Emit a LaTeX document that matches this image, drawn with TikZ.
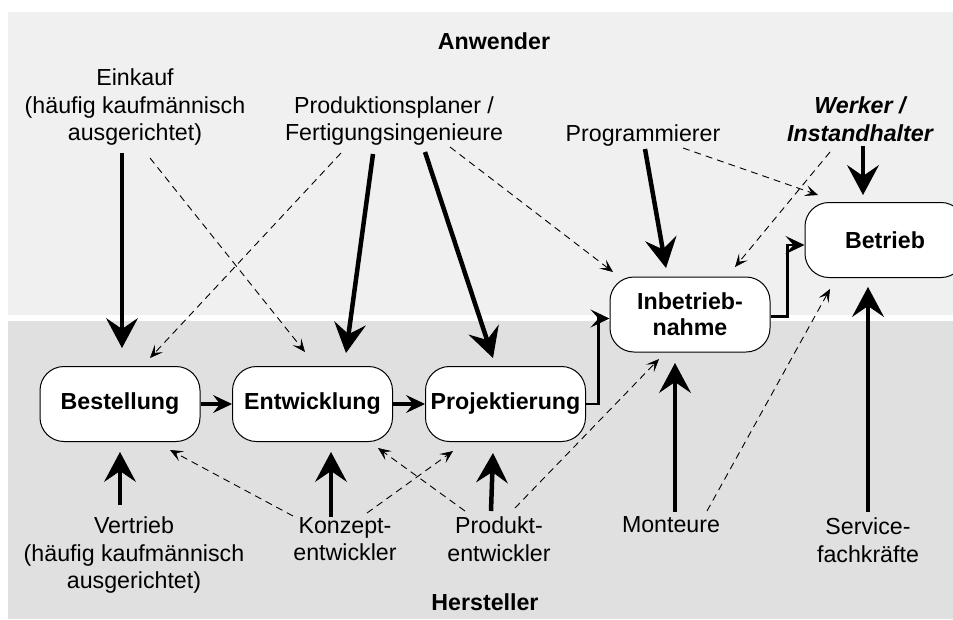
\documentclass[tikz,border=0pt]{standalone}
\usepackage{fontspec}
\setmainfont{Liberation Sans}
\usetikzlibrary{arrows.meta,calc}

\definecolor{userbg}{gray}{0.94}
\definecolor{makerbg}{gray}{0.878}

\begin{document}
\begin{tikzpicture}[x=1pt,y=-1pt,
  txt/.style={font=\fontsize{23.2}{27.5}\selectfont, align=center, inner sep=0pt},
  hdr/.style={txt, font=\fontsize{23.2}{27.5}\selectfont\bfseries},
  phase/.style={draw, line width=1pt, fill=white, rounded corners=24pt,
    minimum width=160pt, minimum height=75pt, inner sep=0pt, align=center,
    font=\fontsize{23.2}{26}\selectfont\bfseries},
  bigarrow/.style={line width=4.5pt,
    -{Stealth[length=30pt,width=32pt,inset=11pt,line width=1pt]}},
  flow/.style={line width=3.5pt,
    -{Stealth[length=19pt,width=18pt,inset=7pt,line width=1pt]}},
  steparrow/.style={line width=2.5pt,
    -{Stealth[length=19pt,width=18pt,inset=8pt,line width=1pt]}},
  hint/.style={line width=0.9pt, dash pattern=on 7pt off 5pt,
    -{Stealth[length=13pt,width=11pt,inset=6pt,line width=0.6pt]}},
]
\useasboundingbox (0,0) rectangle (953,619);
\clip (0,0) rectangle (953,619);

% the two zones: users above, manufacturer below
\fill[userbg] (8,12) rectangle (953,315);
\fill[makerbg] (8,321) rectangle (953,619);

\node[hdr] (anw) at (494,41) {Anwender};
\node[hdr] (her) at (485,602) {Hersteller};

% life-cycle phases
\node[phase] (bes) at (120,404) {Bestellung};
\node[phase] (ent) at (312.5,404) {Entwicklung};
\node[phase] (pro) at (505.5,404) {Projektierung};
\node[phase] (inb) at (690,314.5) {Inbetrieb-\\nahme};
\node[phase] (bet) at (885,240) {Betrieb};

% roles on the user side
\node[txt] (ein) at (135,107) {Einkauf\\(häufig kaufmännisch\\ausgerichtet)};
\node[txt] (pp) at (394,121) {Produktionsplaner /\\Fertigungsingenieure};
\node[txt] (prg) at (643,135) {Programmierer};
\node[txt, font=\fontsize{23.2}{27.5}\selectfont\bfseries\itshape] (wrk) at (860,119) {Werker /\\Instandhalter};

% roles on the manufacturer side
\node[txt] (ver) at (134,555) {Vertrieb\\(häufig kaufmännisch\\ausgerichtet)};
\node[txt] (kon) at (345,539) {Konzept-\\entwickler};
\node[txt] (prd) at (499,539) {Produkt-\\entwickler};
\node[txt] (mon) at (671,525) {Monteure};
\node[txt] (ser) at (868,540) {Service-\\fachkräfte};

% phase sequence
\draw[flow] (bes.east) -- (ent.west);
\draw[flow] (ent.east) -- (pro.west);
\draw[steparrow] (pro.east) -- ++(12.5,0) |- ($(inb.west)+(0,4)$);
\draw[steparrow] ($(inb.east)+(0,2)$) -- ++(17,0) |- ($(bet.west)+(0,5)$);

% main responsibilities
\draw[bigarrow] ($(ein)+(-13,46)$) -- ($(bes)+(2,-56)$);
\draw[bigarrow] ($(pp)+(-21,33)$) -- ($(ent)+(33.5,-51)$);
\draw[bigarrow] ($(pp)+(31,31)$) -- ($(pro)+(-12.5,-46)$);
\draw[bigarrow] ($(prg)+(2,14)$) -- ($(inb)+(-24,-46.5)$);
\draw[bigarrow] ($(wrk)+(3,27)$) -- ($(bet)+(-22,-45)$);
\draw[bigarrow] ($(ver)+(-14,-50)$) -- ($(bes)+(0,48)$);
\draw[bigarrow] ($(kon)+(-14,-22)$) -- ($(ent)+(18.5,48)$);
\draw[bigarrow] ($(prd)+(-8,-28)$) -- ($(pro)+(-12.5,49)$);
\draw[bigarrow] ($(mon)+(4,-13)$) -- ($(inb)+(-15,48.5)$);
\draw[bigarrow] ($(ser)+(0,-28)$) -- ($(bet)+(-17,47)$);

% secondary involvement
\draw[hint] ($(ein)+(15,51)$) -- ($(ent)+(-7.5,-52)$);
\draw[hint] ($(pp)+(-53,32)$) -- ($(bes)+(30,-46)$);
\draw[hint] ($(pp)+(56,26)$) -- ($(inb)+(-77,-42.5)$);
\draw[hint] ($(prg)+(40,13)$) -- ($(bet)+(-67,-45)$);
\draw[hint] ($(wrk)+(-30,33)$) -- ($(inb)+(45,-47.5)$);
\draw[hint] ($(kon)+(-52,-23)$) -- ($(bes)+(50,46)$);
\draw[hint] ($(kon)+(22,-26)$) -- ($(pro)+(-52.5,47)$);
\draw[hint] ($(prd)+(-34,-28)$) -- ($(ent)+(65.5,44)$);
\draw[hint] ($(prd)+(16,-31)$) -- ($(inb)+(-31,44.5)$);
\draw[hint] ($(mon)+(36,-14)$) -- ($(bet)+(-55,49)$);
\end{tikzpicture}
\end{document}
